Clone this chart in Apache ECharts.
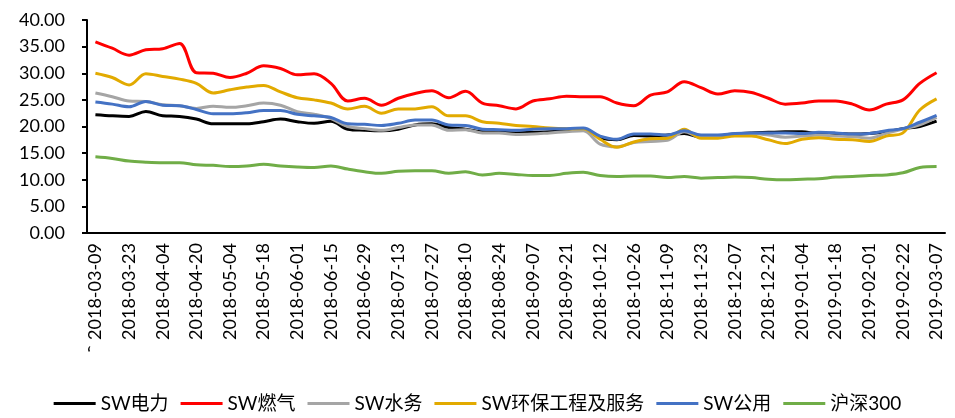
<!DOCTYPE html>
<html>
<head>
<meta charset="utf-8">
<script src="https://cdn.jsdelivr.net/npm/echarts@6/dist/echarts.min.js"></script>
<style>
  html, body { margin: 0; padding: 0; background: #fff; }
  #chart { width: 955px; height: 418px; }
</style>
</head>
<body>
<div id="chart"></div>
<script>
// 周度日期
var dates = [
  '2018-03-09', '2018-03-16', '2018-03-23', '2018-03-30', '2018-04-04', '2018-04-13',
  '2018-04-20', '2018-04-27', '2018-05-04', '2018-05-11', '2018-05-18', '2018-05-25',
  '2018-06-01', '2018-06-08', '2018-06-15', '2018-06-22', '2018-06-29', '2018-07-06',
  '2018-07-13', '2018-07-20', '2018-07-27', '2018-08-03', '2018-08-10', '2018-08-17',
  '2018-08-24', '2018-08-31', '2018-09-07', '2018-09-14', '2018-09-21', '2018-09-28',
  '2018-10-12', '2018-10-19', '2018-10-26', '2018-11-02', '2018-11-09', '2018-11-16',
  '2018-11-23', '2018-11-30', '2018-12-07', '2018-12-14', '2018-12-21', '2018-12-28',
  '2019-01-04', '2019-01-11', '2019-01-18', '2019-01-25', '2019-02-01', '2019-02-15',
  '2019-02-22', '2019-03-01', '2019-03-07'
]

// SW电力
var dianli = [22.2, 22.0, 21.9, 22.8, 22.0, 21.9, 21.4, 20.5, 20.5, 20.5, 20.9, 21.4, 20.9, 20.6, 21.0, 19.5, 19.3,
  19.2, 19.5, 20.3, 20.5, 19.8, 19.5, 19.0, 18.9, 18.8, 18.9, 19.0, 19.2, 19.5, 17.9, 17.5, 18.3, 18.2, 18.4,
  18.7, 18.0, 18.2, 18.6, 18.8, 18.9, 19.0, 19.0, 18.7, 18.7, 18.6, 18.7, 19.0, 19.6, 20.0, 21.0]
// SW燃气
var ranqi = [35.9, 34.7, 33.4, 34.4, 34.6, 35.6, 30.1, 30.0, 29.2, 30.0, 31.4, 30.9, 29.7, 29.9, 28.1, 24.8, 25.3,
  24.0, 25.3, 26.2, 26.7, 25.4, 26.6, 24.4, 23.9, 23.3, 24.8, 25.2, 25.7, 25.6, 25.6, 24.4, 23.9, 25.9, 26.5,
  28.4, 27.3, 26.1, 26.7, 26.4, 25.3, 24.2, 24.4, 24.8, 24.8, 24.2, 23.1, 24.2, 25.0, 28.1, 30.1]
// SW水务
var shuiwu = [26.3, 25.6, 24.8, 24.7, 24.1, 23.9, 23.4, 23.8, 23.6, 23.9, 24.4, 24.0, 22.8, 22.3, 21.5, 20.0, 19.6,
  19.3, 19.8, 20.3, 20.3, 19.3, 19.4, 18.8, 18.8, 18.5, 18.6, 18.8, 19.0, 19.2, 16.7, 16.2, 17.0, 17.2, 17.4,
  19.0, 18.0, 18.1, 18.7, 18.7, 18.4, 18.0, 18.2, 18.4, 18.2, 18.1, 17.8, 18.7, 19.5, 20.3, 21.7]
// SW环保工程及服务
var huanbao = [30.0, 29.2, 27.8, 29.9, 29.4, 28.9, 28.1, 26.3, 26.9, 27.4, 27.7, 26.5, 25.4, 25.0, 24.4, 23.3, 23.8,
  22.5, 23.3, 23.3, 23.7, 22.0, 22.0, 20.9, 20.6, 20.2, 20.0, 19.7, 19.6, 19.6, 17.6, 16.1, 17.1, 17.7, 17.8,
  19.5, 17.8, 17.8, 18.2, 18.2, 17.5, 16.8, 17.6, 17.9, 17.6, 17.5, 17.2, 18.2, 18.8, 23.1, 25.2]
// SW公用
var gongyong = [24.6, 24.2, 23.7, 24.7, 24.0, 23.9, 23.2, 22.4, 22.4, 22.6, 23.0, 23.0, 22.3, 22.0, 21.7, 20.5, 20.4,
  20.2, 20.6, 21.2, 21.2, 20.3, 20.2, 19.5, 19.4, 19.3, 19.5, 19.6, 19.6, 19.7, 18.2, 17.6, 18.6, 18.6, 18.4,
  19.2, 18.4, 18.4, 18.7, 18.8, 18.8, 18.8, 18.7, 18.9, 18.8, 18.6, 18.7, 19.2, 19.6, 20.8, 22.1]
// 沪深300
var hs300 = [14.3, 14.0, 13.5, 13.3, 13.2, 13.2, 12.8, 12.7, 12.5, 12.6, 12.9, 12.6, 12.4, 12.3, 12.6, 12.0, 11.5,
  11.2, 11.6, 11.7, 11.7, 11.2, 11.5, 10.9, 11.2, 11.0, 10.8, 10.8, 11.2, 11.4, 10.8, 10.6, 10.7, 10.7, 10.4,
  10.6, 10.3, 10.4, 10.5, 10.4, 10.1, 10.0, 10.1, 10.2, 10.5, 10.6, 10.8, 10.9, 11.3, 12.3, 12.5]

var names = ['SW电力', 'SW燃气', 'SW水务', 'SW环保工程及服务', 'SW公用', '沪深300']
var colors = ['#000000', '#FF0000', '#A5A5A5', '#E2AA00', '#4472C4', '#70AD47']
var values = [dianli, ranqi, shuiwu, huanbao, gongyong, hs300]

var font = 'Lato, "Noto Sans CJK SC", sans-serif'

var chart = echarts.init(document.getElementById('chart'))

var option = {
  animation: false,
  color: colors,
  grid: { left: 87, right: 10, top: 20, bottom: 185, containLabel: false },
  legend: {
    bottom: 0,
    left: 'center',
    icon: 'rect',
    itemWidth: 42,
    itemHeight: 3,
    itemGap: 12,
    textStyle: { fontFamily: font, fontSize: 19, color: '#000' },
    data: names
  },
  xAxis: {
    type: 'category',
    data: dates,
    boundaryGap: true,
    axisLine: { lineStyle: { color: '#000', width: 2 } },
    axisTick: { inside: true, length: 6, interval: 0, lineStyle: { color: '#000', width: 2 } },
    axisLabel: { interval: 1, rotate: 90, margin: 10, fontFamily: font, fontSize: 18, color: '#000' }
  },
  yAxis: {
    type: 'value',
    min: 0,
    max: 40,
    interval: 5,
    splitLine: { show: false },
    axisLine: { show: true, lineStyle: { color: '#000', width: 2 } },
    axisTick: { show: true, length: 5, lineStyle: { color: '#000', width: 2 } },
    axisLabel: {
      margin: 22,
      fontFamily: font,
      fontSize: 18,
      color: '#000',
      formatter: function (v) { return v.toFixed(2) }
    }
  },
  graphic: [{
    type: 'text',
    left: 87,
    top: 345,
    style: { text: '‘', fontFamily: font, fontSize: 20, fill: '#000' }
  }],
  series: names.map(function (n, i) {
    return {
      name: n,
      type: 'line',
      data: values[i],
      smooth: 0.35,
      symbol: 'none',
      lineStyle: { width: 3, color: colors[i] }
    }
  })
}
chart.setOption(option)
</script>
</body>
</html>
